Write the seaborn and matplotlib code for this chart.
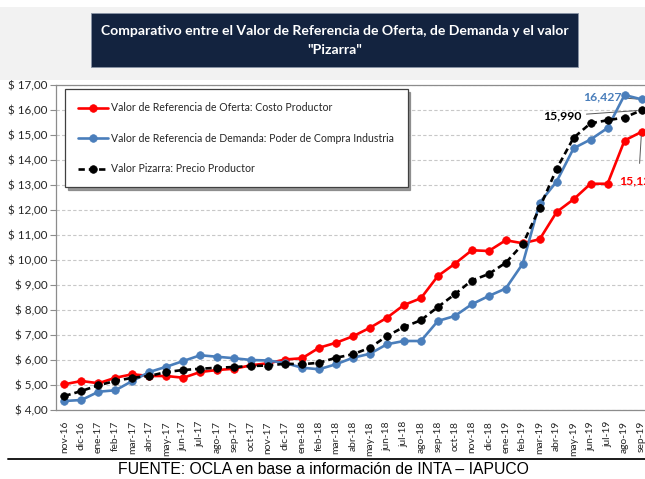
"""
plot.py - Comparativo entre valores de referencia de leche (oferta, demanda, pizarra).

Redraws the OCLA chart as a seaborn line chart and saves it to out.png.
"""

import matplotlib
import matplotlib.pyplot as plt
import numpy as np
import pandas as pd
import seaborn as sns
from matplotlib.lines import Line2D
from matplotlib.patches import Rectangle

matplotlib.use("Agg")

# ---------------------------------------------------------------------------
# Data
# ---------------------------------------------------------------------------
MONTHS = [
    "nov-16", "dic-16", "ene-17", "feb-17", "mar-17", "abr-17", "may-17",
    "jun-17", "jul-17", "ago-17", "sep-17", "oct-17", "nov-17", "dic-17",
    "ene-18", "feb-18", "mar-18", "abr-18", "may-18", "jun-18", "jul-18",
    "ago-18", "sep-18", "oct-18", "nov-18", "dic-18", "ene-19", "feb-19",
    "mar-19", "abr-19", "may-19", "jun-19", "jul-19", "ago-19", "sep-19",
]

OFERTA = [
    5.03, 5.16, 5.07, 5.29, 5.43, 5.36, 5.36, 5.29, 5.52, 5.60, 5.65, 5.79,
    5.87, 6.02, 6.07, 6.49, 6.69, 6.95, 7.29, 7.69, 8.20, 8.47, 9.36, 9.85,
    10.39, 10.36, 10.79, 10.67, 10.83, 11.92, 12.43, 13.05, 13.05, 14.78, 15.125,
]

DEMANDA = [
    4.36, 4.40, 4.73, 4.79, 5.16, 5.52, 5.73, 5.96, 6.19, 6.13, 6.07, 6.00,
    5.98, 5.88, 5.69, 5.63, 5.83, 6.09, 6.25, 6.63, 6.76, 6.76, 7.56, 7.76,
    8.23, 8.56, 8.86, 9.85, 12.29, 13.14, 14.47, 14.82, 15.28, 16.60, 16.427,
]

PIZARRA = [
    4.56, 4.76, 4.99, 5.16, 5.29, 5.36, 5.52, 5.60, 5.65, 5.69, 5.72, 5.76,
    5.78, 5.85, 5.83, 5.89, 6.09, 6.23, 6.49, 6.96, 7.32, 7.59, 8.12, 8.63,
    9.18, 9.44, 9.89, 10.63, 12.09, 13.65, 14.89, 15.47, 15.59, 15.70, 15.99,
]

SERIES_LABELS = [
    "Valor de Referencia de Oferta: Costo Productor",
    "Valor de Referencia de Demanda: Poder de Compra Industria",
    "Valor Pizarra: Precio Productor",
]
Y_TICKS = list(range(4, 18))

TITLE = ('Comparativo entre el Valor de Referencia de Oferta, de Demanda y el valor\n'
         '"Pizarra"')
SOURCE = "FUENTE: OCLA en base a información de INTA – IAPUCO"

RED = "#FF0000"
BLUE = "#4A7EBB"
BLACK = "#000000"
NAVY = "#13233F"

W, H = 645, 479  # output size in pixels (dpi=100)


def money(v):
    """Format like the Excel axis: '$ 17,00'."""
    return f"$ {v:.2f}".replace(".", ",")


def build_frame():
    """Long-form table so seaborn can draw every series."""
    rows = []
    for label, values in zip(SERIES_LABELS, [OFERTA, DEMANDA, PIZARRA]):
        for month, v in zip(MONTHS, values):
            rows.append({"mes": month, "valor": v, "serie": label})
    return pd.DataFrame(rows)


def main():
    sns.set_theme(style="white")
    # Calibri is not available; Lato is the closest narrow-ish humanist face
    plt.rcParams["font.family"] = ["Lato", "DejaVu Sans"]

    df = build_frame()

    fig = plt.figure(figsize=(W / 100, H / 100), dpi=100)
    fig.patch.set_facecolor("white")

    # grey band + navy title box
    fig.patches.append(Rectangle((0, 1 - 80 / H), 1, 73 / H, transform=fig.transFigure,
                                 facecolor="#F2F2F2", edgecolor="none", zorder=0))
    fig.patches.append(Rectangle((91 / W, 1 - 66.7 / H), 487 / W, 54 / H,
                                 transform=fig.transFigure, facecolor=NAVY,
                                 edgecolor="#8A94A6", lw=0.6, zorder=1))
    fig.text(334.5 / W, 1 - 40.5 / H, TITLE, ha="center", va="center", color="white",
             fontsize=10.1, fontweight="bold", linespacing=1.65, zorder=2)

    ax = fig.add_axes([56 / W, 69 / H, 594 / W, 325 / H])

    styles = {
        SERIES_LABELS[0]: dict(color=RED, ls="-"),
        SERIES_LABELS[1]: dict(color=BLUE, ls="-"),
        SERIES_LABELS[2]: dict(color=BLACK, ls=(0, (2.4, 1.5))),
    }
    for i, label in enumerate(SERIES_LABELS):
        sub = df[df["serie"] == label]
        st = styles[label]
        sns.lineplot(data=sub, x="mes", y="valor", ax=ax, sort=False,
                     color=st["color"], linestyle=st["ls"], lw=1.9,
                     marker="o", markersize=5.5, markeredgecolor=st["color"],
                     markeredgewidth=0.5, label=label, zorder=3 + i)

    # axes limits / ticks
    ax.set_xlim(-0.5, len(MONTHS) - 0.5)
    ax.set_ylim(Y_TICKS[0], Y_TICKS[-1])
    ax.set_xlabel("")
    ax.set_ylabel("")
    ax.set_yticks(Y_TICKS)
    ax.set_yticklabels([money(v) for v in Y_TICKS])
    ax.set_xticks(np.arange(len(MONTHS)))
    ax.set_xticklabels(MONTHS, rotation=90)
    ax.set_xticks(np.arange(len(MONTHS) + 1) - 0.5, minor=True)

    ax.tick_params(axis="x", which="major", length=0, pad=8, labelsize=7.4,
                   labelcolor="#262626")
    ax.tick_params(axis="x", which="minor", length=4, width=0.8, color="#8C8C8C",
                   direction="out")
    ax.tick_params(axis="y", length=4, width=0.8, color="#8C8C8C", direction="out",
                   left=True, pad=2, labelsize=8.4, labelcolor="#262626")

    ax.yaxis.grid(True, linestyle=(0, (3, 2)), color="#C8C8C8", lw=0.8)
    ax.xaxis.grid(False)
    ax.set_axisbelow(True)
    for side in ["left", "bottom", "top"]:
        ax.spines[side].set_color("#8C8C8C")
        ax.spines[side].set_linewidth(0.9)
    ax.spines["right"].set_visible(False)

    # end-of-series value labels
    fs = 8.8
    ax.annotate("16,427", xy=(len(MONTHS) - 1, DEMANDA[-1]), xytext=(-14, 2),
                textcoords="offset points", ha="right", va="center", color=BLUE,
                fontsize=fs, fontweight="bold",
                arrowprops=dict(arrowstyle="-", color="#595959", lw=0.7,
                                shrinkA=1, shrinkB=3))
    ax.annotate("15,990", xy=(len(MONTHS) - 1, PIZARRA[-1]), xytext=(-43, -4),
                textcoords="offset points", ha="right", va="center", color=BLACK,
                fontsize=fs, fontweight="bold",
                arrowprops=dict(arrowstyle="-", color="#595959", lw=0.7,
                                shrinkA=1, shrinkB=3))
    ax.annotate("15,125", xy=(len(MONTHS) - 1, OFERTA[-1]), xytext=(-16, -35),
                textcoords="offset points", ha="left", va="center", color=RED,
                fontsize=fs, fontweight="bold",
                arrowprops=dict(arrowstyle="-", color="#595959", lw=0.7,
                                shrinkA=6, shrinkB=3))

    handles, labels = ax.get_legend_handles_labels()
    leg = ax.legend(handles, labels, loc="upper left",
                    bbox_to_anchor=(9 / 594, (410 - 89) / 325), borderaxespad=0,
                    frameon=True, fancybox=False,
                    shadow={"color": "#7F7F7F", "alpha": 0.8}, fontsize=7.6,
                    borderpad=1.25, labelspacing=1.85, handlelength=2.8,
                    handletextpad=0.35)
    leg.get_frame().set_edgecolor("#404040")
    leg.get_frame().set_linewidth(0.9)
    leg.get_frame().set_facecolor("white")
    leg.set_zorder(10)

    # bottom rule and source note
    fig.add_artist(Line2D([8 / W, 1], [1 - 459 / H, 1 - 459 / H], transform=fig.transFigure,
                          color="#1A1A1A", lw=1.4))
    fig.text(323 / W, 1 - 469 / H, SOURCE, ha="center", va="center", fontsize=11.3,
             family=["Liberation Sans", "DejaVu Sans"], color="black")

    fig.savefig("out.png", dpi=100)
    plt.close(fig)


if __name__ == "__main__":
    main()
